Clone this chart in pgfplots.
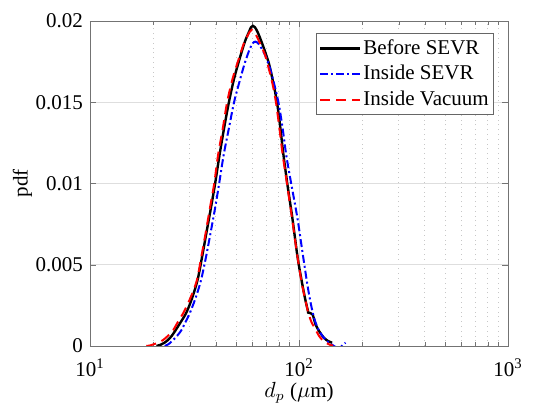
\documentclass[border=0pt]{standalone}
\usepackage{fontspec}
\setmainfont{Liberation Serif}
\usepackage{pgfplots}
\pgfplotsset{compat=1.18}
\definecolor{mblue}{rgb}{0,0,1}
\definecolor{mred}{rgb}{1,0,0}
\begin{document}
\begin{tikzpicture}
\begin{axis}[
  name=ax,
  scale only axis, width=209pt, height=162.5pt,
  xmode=log, xmin=10, xmax=1000, ymin=0, ymax=0.02,
  xtick={10,100,1000},
  xticklabels={10\textsuperscript{1},10\textsuperscript{2},10\textsuperscript{3}},
  ytick={0,0.005,0.01,0.015,0.02},
  yticklabels={0,0.005,0.01,0.015,0.02},
  scaled y ticks=false,
  xmajorgrids, ymajorgrids, xminorgrids,
  major grid style={black!13, line width=0.4pt},
  minor grid style={black!22, dotted, line width=0.4pt},
  axis line style={black!55},
  tick style={black!55},
  major tick length=3pt, minor tick length=1.8pt,
  tick align=inside,
  ticklabel style={font=\fontsize{10.5}{12.5}\selectfont},
  xticklabel style={yshift=-3pt},
  xlabel={$d_p$ ($\mu$m)}, ylabel={pdf},
  label style={font=\fontsize{10.5}{12.5}\selectfont},
  x label style={at={(axis description cs:0.5,-0.1446)},anchor=center},
  y label style={at={(axis description cs:-0.1615,0.5)},anchor=center},
  legend style={at={(0.967,0.963)}, anchor=north east, draw=black!60,
    font=\fontsize{10.5}{12.5}\selectfont, inner xsep=1.5pt, inner ysep=1pt,
    row sep=0pt, cells={anchor=west}, nodes={inner xsep=1pt}},
  legend image code/.code={\draw[#1] (0pt,0pt) -- (20pt,0pt);},
]
\addplot[black, line width=1.2pt, smooth] table {
x y
20.8 0
21.8 0.00008
22.7 0.0002
23.6 0.00037
24.6 0.00062
25.7 0.00098
27.2 0.00148
28.9 0.00205
30.7 0.0029
32.7 0.00405
34.4 0.0055
36.1 0.0070
37.9 0.0085
39.7 0.0100
41.6 0.0117
43.8 0.0134
46.2 0.0150
48.8 0.0164
51.5 0.0175
55.0 0.0187
57.5 0.0193
59.0 0.01962
60.2 0.0197
61.5 0.01962
63.5 0.0193
66.5 0.01865
69.3 0.0180
72.1 0.0173
75.3 0.0162
78.5 0.0150
81.3 0.0135
84.0 0.0119
88.0 0.00995
92.9 0.0079
97.5 0.00585
100.0 0.00492
103.7 0.0038
107.0 0.0029
110.4 0.00215
110.8 0.00205
116.0 0.00195
120.0 0.00133
125.0 0.0009
131.7 0.0005
138.0 0.0003
144.0 0.0002
};
\addlegendentry{Before SEVR}
\addplot[mblue, line width=1pt, smooth, dash pattern=on 4pt off 1.5pt on 1pt off 1.5pt] table {
x y
22.8 0
23.8 0.00012
25.0 0.00037
26.2 0.00065
27.4 0.00098
28.7 0.0015
30.0 0.00201
31.9 0.0029
33.9 0.0040
35.8 0.0054
37.8 0.0070
39.7 0.0085
41.5 0.0100
43.6 0.01175
46.2 0.0134
48.9 0.0150
52.0 0.0163
55.0 0.0174
58.0 0.01825
60.0 0.01862
61.8 0.01873
63.8 0.01862
67.0 0.0182
70.5 0.0176
73.0 0.0170
76.5 0.0160
80.0 0.0149
83.5 0.0134
87.0 0.0117
91.9 0.00995
98.2 0.0079
103.7 0.00585
109.6 0.0038
113.5 0.0027
118.0 0.00174
124.0 0.0010
131.7 0.0005
138.0 0.00025
144.0 0.00008
149.0 -0.00005
154.0 -0.0001
159.0 -0.00005
163.0 0.0001
167.0 0.0002
};
\addlegendentry{Inside SEVR}
\addplot[mred, line width=1pt, smooth, dash pattern=on 5pt off 3pt] table {
x y
18.6 0
19.5 0.00004
20.3 0.00012
21.2 0.0002
22.4 0.00037
23.7 0.00065
25.0 0.00098
26.4 0.0015
27.9 0.00201
30.1 0.0029
32.4 0.0040
34.0 0.0054
35.7 0.0069
37.5 0.0085
39.3 0.0100
41.0 0.01175
43.2 0.0134
45.3 0.0150
48.0 0.0164
51.0 0.0175
54.4 0.0186
56.8 0.0191
58.2 0.01935
59.3 0.01945
60.6 0.01938
62.5 0.0191
65.8 0.0185
68.8 0.0179
71.6 0.0171
74.8 0.0161
77.6 0.0150
80.6 0.0134
83.6 0.01175
88.3 0.0097
93.0 0.0077
97.8 0.0057
103.0 0.0039
107.0 0.0029
110.5 0.0021
114.5 0.0015
119.0 0.0011
125.0 0.0006
131.0 0.0003
137.0 0.00015
142.0 0.00005
145.5 0.00003
};
\addlegendentry{Inside Vacuum}
\end{axis}
\pgfresetboundingbox
\path[use as bounding box] ([xshift=-45pt,yshift=-31pt]ax.south west) rectangle ([xshift=12.5pt,yshift=10.5pt]ax.north east);
\end{tikzpicture}
\end{document}
